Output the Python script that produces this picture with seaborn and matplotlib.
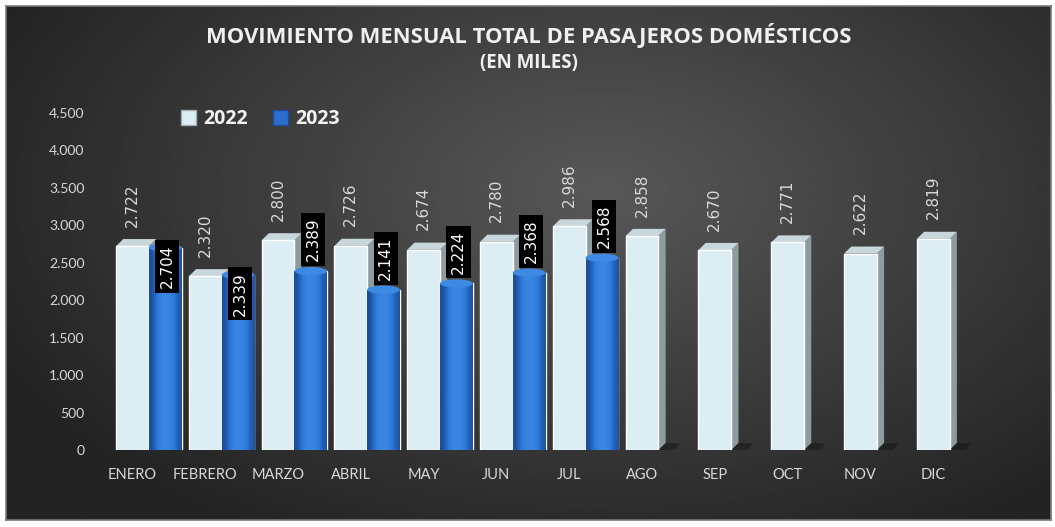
import numpy as np
import pandas as pd
import matplotlib
matplotlib.use("Agg")
import matplotlib.pyplot as plt
import seaborn as sns
from matplotlib.patches import Polygon, Ellipse, Patch
from matplotlib.ticker import FuncFormatter
from matplotlib.colors import LinearSegmentedColormap

# ---------------- data ----------------
months = ["ENERO", "FEBRERO", "MARZO", "ABRIL", "MAY", "JUN", "JUL",
          "AGO", "SEP", "OCT", "NOV", "DIC"]
pax_2022 = [2722, 2320, 2800, 2726, 2674, 2780, 2986, 2858, 2670, 2771, 2622, 2819]
pax_2023 = [2704, 2339, 2389, 2141, 2224, 2368, 2568,
            np.nan, np.nan, np.nan, np.nan, np.nan]
years = ["2022", "2023"]
title = "MOVIMIENTO MENSUAL TOTAL DE PASAJEROS DOMÉSTICOS"
subtitle = "(EN MILES)"
y_ticks = [0, 500, 1000, 1500, 2000, 2500, 3000, 3500, 4000, 4500]

# ---------------- style ----------------
sns.set_theme(style="dark")
plt.rcParams["font.family"] = ["Lato", "DejaVu Sans"]

C22_FRONT = "#dcedf3"
C22_TOP = "#c8d7db"
C22_SIDE = "#8d9ca1"
C23 = "#2a6fcf"
C23_TOP = "#3d8ae4"
TXT = "#d9d9d9"

W, H = 1055, 527
fig = plt.figure(figsize=(W / 100, H / 100), dpi=100, facecolor="white")

# background panel with radial gradient
bg = fig.add_axes([6 / W, 7 / H, 1045 / W, 514 / H])
yy, xx = np.mgrid[0:1:300j, 0:1:600j]
r = np.sqrt(((xx - 0.57) / 0.62) ** 2 + ((yy - 0.36) / 0.75) ** 2)
val = np.clip(0.345 - 0.20 * r, 0.14, 0.35)
bg.imshow(val, cmap="gray", vmin=0, vmax=1, aspect="auto",
          extent=[0, 1, 0, 1], interpolation="bilinear")
bg.set_xticks([]); bg.set_yticks([])
for s in bg.spines.values():
    s.set_color("#7a7a7a"); s.set_linewidth(1.2)

# main axes
ax = fig.add_axes([108 / W, 77 / H, 878 / W, 337 / H])
ax.set_facecolor("none")

df = pd.DataFrame({
    "mes": months * 2,
    "anio": [years[0]] * len(months) + [years[1]] * len(months),
    "valor": pax_2022 + pax_2023,
})
sns.barplot(data=df, x="mes", y="valor", hue="anio", order=months,
            hue_order=years, palette=[C22_FRONT, C23], width=0.9,
            saturation=1, errorbar=None, legend=False, ax=ax, zorder=3)

dx, dy = 0.10, 95  # 3D depth in data units

# 2022 bars: box with top & side faces
for p in ax.containers[0]:
    h = p.get_height()
    if not np.isfinite(h) or h <= 0:
        continue
    x0, w = p.get_x(), p.get_width()
    x1 = x0 + w
    ax.add_patch(Polygon([(x1, 0), (x1 + dx, dy), (x1 + dx, h + dy), (x1, h)],
                         closed=True, fc=C22_SIDE, ec="none", zorder=2))
    ax.add_patch(Polygon([(x0, h), (x0 + dx, h + dy), (x1 + dx, h + dy), (x1, h)],
                         closed=True, fc=C22_TOP, ec="none", zorder=2))
    ax.add_patch(Polygon([(x1, 0), (x1 + 2.2 * dx, 0), (x1 + 3 * dx, dy * 0.9),
                          (x1 + dx, dy)], closed=True, fc="#151515", ec="none",
                         alpha=0.5, zorder=1))

# 2023 bars: cylinders
grad = np.array([[0.0, 0.35, 0.7, 0.9, 0.75, 0.4, 0.1]])
cyl = LinearSegmentedColormap.from_list("cyl", ["#1a4c98", "#2f7bdc", "#3f8ce6"])
for p in ax.containers[1]:
    h = p.get_height()
    if not np.isfinite(h) or h <= 0:
        p.set_visible(False)
        continue
    x0, w = p.get_x(), p.get_width()
    im = ax.imshow(grad, cmap=cyl, vmin=0, vmax=1, aspect="auto",
                   extent=[x0, x0 + w, 0, h], zorder=4, interpolation="bicubic")
    im.set_clip_path(p)
    ax.add_patch(Ellipse((x0 + w / 2, h), w, 110, fc=C23_TOP, ec="none", zorder=5))
    ax.add_patch(Ellipse((x0 + w / 2, 0), w, 110, fc="#1d56a8", ec="none", zorder=2.9))

ax.set_ylim(0, 4500)
ax.set_xlim(-0.56, 11.5)

# data labels
def fmt(v):
    return f"{v:,.0f}".replace(",", ".")

for p, v in zip(ax.containers[0], pax_2022):
    cx = p.get_x() + p.get_width() / 2
    ax.annotate(fmt(v), xy=(cx, v), xytext=(0, 14), textcoords="offset points",
                rotation=90, ha="center", va="bottom", color=TXT,
                fontsize=11, family="DejaVu Sans", zorder=6)

for p, v, v22 in zip(ax.containers[1], pax_2023, pax_2022):
    if not np.isfinite(v):
        continue
    cx = p.get_x() + p.get_width() / 2 + 0.03
    inside = v >= v22 - 100
    ax.annotate(fmt(v), xy=(cx, v), xytext=(0, 2 if inside else 7),
                textcoords="offset points", rotation=90, ha="center",
                va="top" if inside else "bottom", color="white",
                fontsize=11, family="DejaVu Sans", zorder=7,
                bbox=dict(boxstyle="square,pad=0.3", fc="black", ec="none"))

# axes styling
ax.set_xticks(np.arange(len(months)) - 0.225)
ax.set_xticklabels(months)
ax.set_yticks(y_ticks)
ax.yaxis.set_major_formatter(FuncFormatter(lambda v, _: fmt(v)))
ax.tick_params(axis="x", colors=TXT, labelsize=10.5, length=0, pad=13)
ax.tick_params(axis="y", colors=TXT, labelsize=10, length=0, pad=17)
ax.set_xlabel(""); ax.set_ylabel("")
ax.grid(False)
for s in ax.spines.values():
    s.set_visible(False)

# legend
handles = [Patch(fc=C22_FRONT, ec="#9fb0b5"), Patch(fc=C23, ec="#1a4c98")]
fig.legend(handles, years, loc="center left", bbox_to_anchor=(163 / W, 1 - 119 / H),
           ncol=2, frameon=False, handlelength=0.8, handleheight=0.8,
           handletextpad=0.35, columnspacing=1.3,
           prop={"family": "Open Sans", "weight": "bold", "size": 14},
           labelcolor="#f2f2f2")

# titles
fig.text(529 / W, 1 - 35 / H, title, ha="center", va="center", color="#f0f0f0",
         fontsize=15.8, fontweight="bold", family="Open Sans")
fig.text(529 / W, 1 - 63 / H, subtitle, ha="center", va="center", color="#f0f0f0",
         fontsize=13.5, fontweight="bold", family="Open Sans")

fig.savefig("out.png", dpi=100, facecolor="white")
